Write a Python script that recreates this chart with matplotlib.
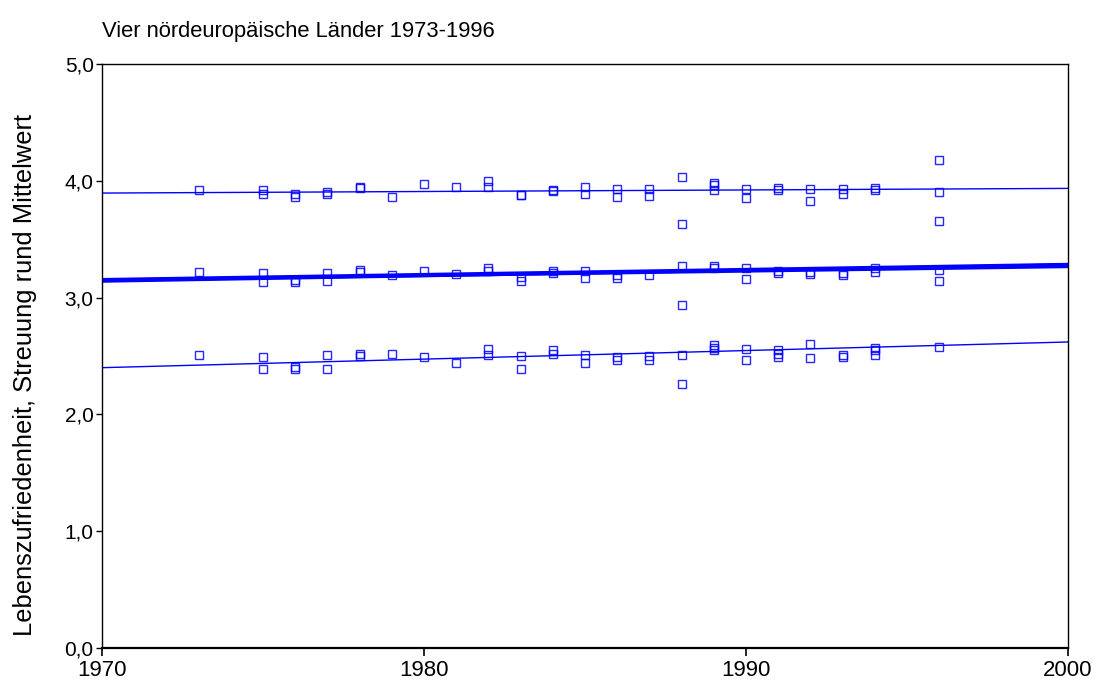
import matplotlib
matplotlib.use("Agg")
import matplotlib.pyplot as plt
from matplotlib.ticker import FuncFormatter

plt.rcParams['font.family'] = ['Liberation Sans', 'DejaVu Sans']

# Upper (mean + sd) points
up_years = [1973, 1975, 1975, 1976, 1976, 1977, 1977, 1978, 1978, 1979, 1980, 1981,
            1982, 1982, 1983, 1983, 1984, 1984, 1985, 1985, 1986, 1986, 1987, 1987,
            1988, 1988, 1989, 1989, 1989, 1990, 1990, 1991, 1991, 1992, 1992,
            1993, 1993, 1994, 1994, 1996, 1996, 1996]
up_vals = [3.92, 3.92, 3.89, 3.89, 3.86, 3.90, 3.89, 3.95, 3.94, 3.86, 3.97, 3.95,
           4.00, 3.95, 3.88, 3.88, 3.92, 3.91, 3.95, 3.89, 3.93, 3.86, 3.93, 3.87,
           4.03, 3.63, 3.98, 3.96, 3.92, 3.93, 3.85, 3.94, 3.92, 3.93, 3.83,
           3.93, 3.89, 3.94, 3.92, 4.18, 3.90, 3.66]

# Middle (mean) points
mid_years = [1973, 1975, 1975, 1976, 1976, 1977, 1977, 1978, 1978, 1979, 1980, 1981,
             1982, 1982, 1983, 1983, 1984, 1984, 1985, 1985, 1986, 1986, 1987,
             1988, 1988, 1989, 1989, 1990, 1990, 1991, 1991, 1992, 1992,
             1993, 1993, 1994, 1994, 1996, 1996]
mid_vals = [3.22, 3.21, 3.13, 3.15, 3.13, 3.21, 3.14, 3.24, 3.22, 3.19, 3.23, 3.20,
            3.25, 3.23, 3.18, 3.14, 3.23, 3.21, 3.23, 3.17, 3.19, 3.17, 3.19,
            3.27, 2.94, 3.27, 3.25, 3.25, 3.16, 3.23, 3.21, 3.22, 3.20,
            3.21, 3.19, 3.25, 3.22, 3.24, 3.14]

# Lower (mean - sd) points
low_years = [1973, 1975, 1975, 1976, 1976, 1977, 1977, 1978, 1978, 1979, 1980, 1981,
             1982, 1982, 1983, 1983, 1984, 1984, 1985, 1985, 1986, 1986, 1987, 1987,
             1988, 1988, 1989, 1989, 1989, 1990, 1990, 1991, 1991, 1991, 1992, 1992,
             1993, 1993, 1994, 1994, 1994, 1996]
low_vals = [2.51, 2.49, 2.39, 2.41, 2.39, 2.51, 2.39, 2.52, 2.50, 2.52, 2.49, 2.44,
            2.56, 2.51, 2.50, 2.39, 2.55, 2.52, 2.51, 2.44, 2.49, 2.47, 2.50, 2.47,
            2.51, 2.26, 2.59, 2.57, 2.55, 2.56, 2.47, 2.55, 2.52, 2.49, 2.60, 2.48,
            2.51, 2.49, 2.57, 2.55, 2.51, 2.58]

# Fit lines: values at 1970 and 2000
line_x = [1970, 2000]
fit_upper = [3.895, 3.935]
fit_mid = [[3.14, 3.28], [3.155, 3.285], [3.15, 3.265]]
fit_lower = [2.40, 2.62]

x_ticks = [1970, 1980, 1990, 2000]
y_ticks = [0.0, 1.0, 2.0, 3.0, 4.0, 5.0]

blue = '#0000ff'

fig = plt.figure(figsize=(11, 6.88), dpi=100)
ax = fig.add_axes([102/1100, 1-648/688, (1068-102)/1100, (648-64)/688])

for yrs, vals in [(up_years, up_vals), (mid_years, mid_vals), (low_years, low_vals)]:
    ax.plot(yrs, vals, linestyle='none', marker='s', markersize=6.2,
            markerfacecolor='none', markeredgecolor=blue, markeredgewidth=1.0,
            alpha=0.85, zorder=3)

ax.plot(line_x, fit_upper, color=blue, lw=1.0, zorder=2)
for f in fit_mid:
    ax.plot(line_x, f, color=blue, lw=2.2, zorder=2)
ax.plot(line_x, fit_lower, color=blue, lw=1.0, zorder=2)

ax.set_xlim(1970, 2000)
ax.set_ylim(0, 5)
ax.set_xticks(x_ticks)
ax.set_yticks(y_ticks)
ax.yaxis.set_major_formatter(FuncFormatter(lambda v, p: f"{v:.1f}".replace('.', ',')))
ax.tick_params(axis='x', direction='out', length=6, width=1.2, labelsize=16, pad=3)
ax.tick_params(axis='y', direction='out', length=4, width=1.0, labelsize=15, pad=2)
for s in ax.spines.values():
    s.set_linewidth(1.0)
ax.spines['bottom'].set_linewidth(1.6)

fig.text(25.5/1100, 1-374.5/688, 'Lebenszufriedenheit, Streuung rund Mittelwert',
         fontsize=18.4, rotation=90, ha='center', va='center')
fig.text(102/1100, 1-36.7/688, 'Vier nördeuropäische Länder 1973-1996', fontsize=15.8,
         ha='left', va='baseline')

fig.savefig('out.png', dpi=100)
